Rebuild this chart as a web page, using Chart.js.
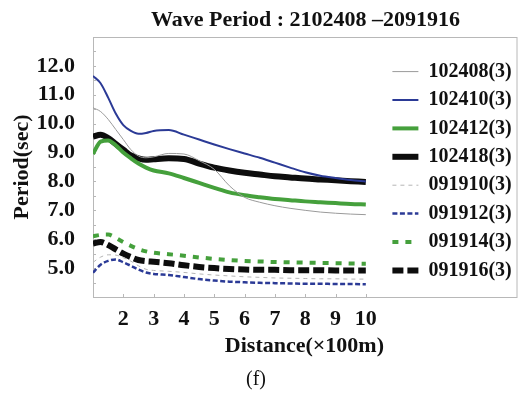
<!DOCTYPE html>
<html lang="en">
<head>
    <meta charset="UTF-8">
    <title>Wave Period</title>
    <script src="https://cdn.jsdelivr.net/npm/chart.js"></script>
    <style>
        body { margin: 0; background: #fff; }
        #wrap { width: 518px; height: 395px; }
    </style>
</head>
<body>
    <div id="wrap"><canvas id="periodChart" width="518" height="395"></canvas></div>

    <script>
        // distance along the section (x100 m)
        const distance = [1, 1.25, 1.5, 1.75, 2, 2.25, 2.5, 2.75, 3, 3.5, 4, 4.5, 5, 5.5, 6, 6.5, 7, 7.5, 8, 8.5, 9, 9.5, 10];

        // wave period (sec) for each case
        const p102408 = [10.55, 10.42, 10.15, 9.8, 9.45, 9.1, 8.88, 8.82, 8.85, 8.97, 8.95, 8.72, 8.42, 7.85, 7.45, 7.28, 7.16, 7.07, 7.0, 6.94, 6.9, 6.87, 6.85];
        const p102410 = [11.65, 11.4, 10.9, 10.35, 9.95, 9.75, 9.65, 9.68, 9.75, 9.78, 9.62, 9.45, 9.28, 9.12, 8.97, 8.82, 8.65, 8.48, 8.32, 8.2, 8.12, 8.05, 8.0];
        const p102412 = [8.95, 9.38, 9.42, 9.25, 9.0, 8.8, 8.62, 8.48, 8.38, 8.28, 8.12, 7.95, 7.78, 7.62, 7.52, 7.45, 7.39, 7.35, 7.31, 7.28, 7.25, 7.22, 7.2];
        const p102418 = [9.55, 9.62, 9.5, 9.3, 9.1, 8.9, 8.8, 8.75, 8.77, 8.8, 8.78, 8.62, 8.48, 8.38, 8.3, 8.24, 8.18, 8.14, 8.1, 8.07, 8.04, 8.01, 7.98];
        const p091910 = [5.2, 5.38, 5.46, 5.45, 5.36, 5.24, 5.08, 4.96, 4.92, 4.89, 4.85, 4.8, 4.76, 4.73, 4.7, 4.68, 4.66, 4.65, 4.64, 4.63, 4.63, 4.62, 4.62];
        const p091912 = [4.84, 5.12, 5.25, 5.3, 5.2, 5.08, 4.95, 4.85, 4.8, 4.76, 4.69, 4.62, 4.57, 4.53, 4.51, 4.49, 4.48, 4.47, 4.46, 4.46, 4.45, 4.45, 4.44];
        const p091914 = [6.1, 6.15, 6.16, 6.05, 5.9, 5.77, 5.66, 5.58, 5.53, 5.48, 5.43, 5.37, 5.32, 5.28, 5.25, 5.23, 5.21, 5.2, 5.19, 5.18, 5.17, 5.16, 5.15];
        const p091916 = [5.85, 5.9, 5.8, 5.65, 5.5, 5.38, 5.28, 5.24, 5.22, 5.17, 5.1, 5.04, 5.0, 4.97, 4.95, 4.94, 4.94, 4.93, 4.93, 4.93, 4.92, 4.92, 4.92];

        const seriesNames = ["102408(3)", "102410(3)", "102412(3)", "102418(3)", "091910(3)", "091912(3)", "091914(3)", "091916(3)"];
        const yTickLabels = [5, 6, 7, 8, 9, 10, 11, 12];
        const xTickLabels = [2, 3, 4, 5, 6, 7, 8, 9, 10];

        const SERIF = "'Liberation Serif', 'Times New Roman', serif";
        const BLUE = "#2b3a96";
        const GREEN = "#45a03c";

        function series(label, values, color, width, dash) {
            return {
                label: label,
                data: distance.map((d, i) => ({ x: d, y: values[i] })),
                borderColor: color,
                backgroundColor: color,
                borderWidth: width,
                borderDash: dash,
                borderCapStyle: "butt",
                pointRadius: 0,
                fill: false,
                cubicInterpolationMode: "monotone"
            };
        }

        // outer box, small inward ticks and the title
        const framePlugin = {
            id: "frame",
            beforeDraw(chart) {
                const { ctx, chartArea: a, scales: { x, y } } = chart;
                ctx.save();
                ctx.strokeStyle = "#b8b8b8";
                ctx.lineWidth = 1;
                ctx.strokeRect(a.left + 0.5, a.top + 0.5, chart.width - a.left - 1.5, a.bottom - a.top);
                ctx.beginPath();
                for (let v = 1; v <= 10; v++) {
                    const px = Math.round(x.getPixelForValue(v)) + 0.5;
                    ctx.moveTo(px, a.bottom);
                    ctx.lineTo(px, a.bottom - 3);
                }
                for (let v = 4.5; v < 13; v += 0.5) {
                    const py = Math.round(y.getPixelForValue(v)) + 0.5;
                    ctx.moveTo(a.left, py);
                    ctx.lineTo(a.left + 3, py);
                }
                ctx.stroke();
                ctx.restore();
            },
            afterDraw(chart) {
                const { ctx, chartArea: a } = chart;
                ctx.save();
                ctx.font = "bold 22px " + SERIF;
                ctx.fillStyle = "#111";
                ctx.textAlign = "center";
                ctx.textBaseline = "middle";
                ctx.fillText("Wave Period : 2102408 \u20132091916", (a.left + chart.width) / 2, 20);
                ctx.restore();
            }
        };

        new Chart(document.getElementById("periodChart"), {
            type: "line",
            data: {
                datasets: [
                    series(seriesNames[0], p102408, "#9a9a9a", 1, []),
                    series(seriesNames[1], p102410, BLUE, 2, []),
                    series(seriesNames[2], p102412, GREEN, 4, []),
                    series(seriesNames[3], p102418, "#0d0d0d", 6, []),
                    series(seriesNames[4], p091910, "#b5b5b5", 1, [4, 4]),
                    series(seriesNames[5], p091912, BLUE, 2.5, [5, 2.5]),
                    series(seriesNames[6], p091914, GREEN, 4, [6, 7]),
                    series(seriesNames[7], p091916, "#0d0d0d", 6, [11, 4])
                ]
            },
            options: {
                responsive: false,
                animation: false,
                events: [],
                layout: { padding: { top: 37, bottom: 3, left: 0, right: 6 } },
                scales: {
                    x: {
                        type: "linear",
                        min: 1,
                        max: 10.6,
                        grid: { display: false },
                        border: { display: false },
                        afterFit: s => { s.height = 71; },
                        ticks: {
                            stepSize: 1,
                            includeBounds: false,
                            autoSkip: false,
                            maxRotation: 0,
                            padding: 1,
                            color: "#111",
                            font: { family: SERIF, size: 22, weight: "bold" },
                            callback: v => xTickLabels.includes(v) ? String(v) : ""
                        },
                        title: {
                            display: true,
                            text: "Distance(\u00d7100m)",
                            align: "end",
                            color: "#111",
                            font: { family: SERIF, size: 22, weight: "bold" },
                            padding: { top: 0, bottom: 8 }
                        }
                    },
                    y: {
                        min: 4,
                        max: 13,
                        grid: { display: false },
                        border: { display: false },
                        afterFit: s => { s.width = 93; },
                        ticks: {
                            stepSize: 1,
                            autoSkip: false,
                            padding: 10,
                            color: "#111",
                            font: { family: SERIF, size: 22, weight: "bold" },
                            callback: v => yTickLabels.includes(v) ? v.toFixed(1) : ""
                        },
                        title: {
                            display: true,
                            text: "Period(sec)",
                            color: "#111",
                            font: { family: SERIF, size: 22, weight: "bold" },
                            padding: { top: 9, bottom: 0 }
                        }
                    }
                },
                plugins: {
                    tooltip: { enabled: false },
                    subtitle: {
                        display: true,
                        position: "bottom",
                        text: "(f)",
                        color: "#111",
                        font: { family: SERIF, size: 20, weight: "normal" },
                        padding: 0
                    },
                    legend: {
                        position: "right",
                        align: "center",
                        fullSize: false,
                        // blank title only nudges the entries down a little
                        title: { display: true, text: " ", padding: 1, font: { size: 5 } },
                        labels: {
                            usePointStyle: true,
                            pointStyleWidth: 26,
                            boxWidth: 26,
                            padding: 8.4,
                            color: "#111",
                            font: { family: SERIF, size: 20, weight: "bold" },
                            generateLabels: chart => chart.data.datasets.map((ds, i) => ({
                                text: ds.label,
                                fillStyle: ds.borderColor,
                                strokeStyle: ds.borderColor,
                                lineWidth: ds.borderWidth,
                                lineDash: ds.borderDash,
                                lineCap: "butt",
                                pointStyle: "line",
                                fontColor: "#111",
                                hidden: false,
                                datasetIndex: i
                            }))
                        }
                    }
                }
            },
            plugins: [framePlugin]
        });
    </script>
</body>
</html>
